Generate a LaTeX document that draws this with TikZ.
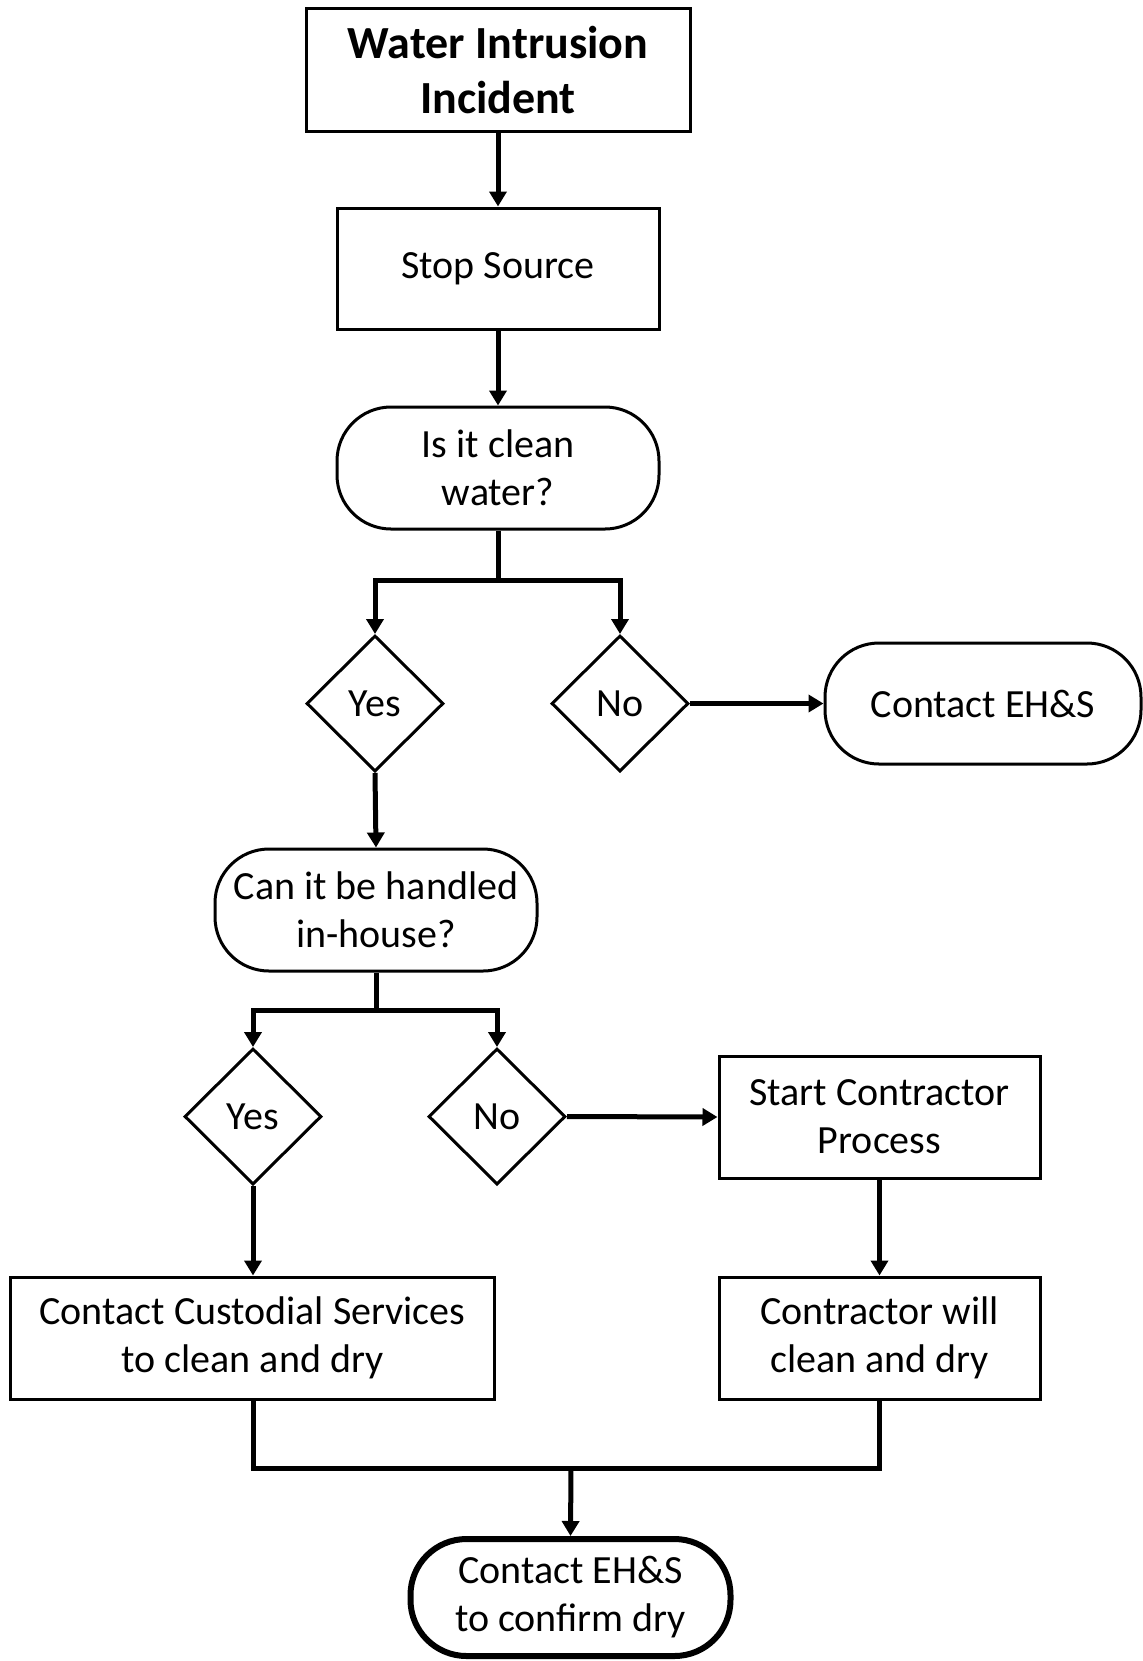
\documentclass[tikz,border=0pt]{standalone}
\usepackage{fontspec}
\setmainfont{Carlito}
\usetikzlibrary{arrows.meta,shapes.geometric}
\begin{document}
\begin{tikzpicture}[x=0.5pt,y=-0.5pt,
  box/.style={draw,line width=1.5pt,inner sep=0pt,align=center,
    font=\fontsize{20}{24}\selectfont},
  rbox/.style={box,rounded corners=27pt},
  dia/.style={draw,line width=1.5pt,diamond,inner sep=0pt,
    minimum width=68.5pt,minimum height=68pt,aspect=1,
    font=\fontsize{20}{24}\selectfont},
  conn/.style={line width=2.5pt,line join=miter},
  arr/.style={conn,-{Triangle[length=7.5pt,width=8.5pt]}}]
\useasboundingbox (0,0) rectangle (1143,1661);
\fill[white] (0,0) rectangle (1143,1661);

\node[box,minimum width=192pt,minimum height=61.5pt,
  font=\bfseries\fontsize{23}{27.5}\selectfont] (title) at (498,70) {Water Intrusion\\Incident};
\node[box,minimum width=161pt,minimum height=60.5pt] (stop) at (498,268.5) {Stop Source};
\node[rbox,minimum width=161pt,minimum height=61pt] (clean) at (498,468) {Is it clean\\water?};
\node[dia] (yes1) at (375,703.5) {Yes};
\node[dia] (no1) at (620,703.5) {No};
\node[rbox,minimum width=158pt,minimum height=60.5pt] (ehs) at (983,703.5) {Contact EH\&S};
\node[rbox,minimum width=161pt,minimum height=61pt] (house) at (376,910) {Can it be handled\\in-house?};
\node[dia] (yes2) at (253,1116.5) {Yes};
\node[dia] (no2) at (497,1116.5) {No};
\node[box,minimum width=160.5pt,minimum height=61pt] (start) at (879.5,1117) {Start Contractor\\Process};
\node[box,minimum width=242pt,minimum height=61pt] (cust) at (252.6,1338) {Contact Custodial Services\\to clean and dry};
\node[box,minimum width=160.5pt,minimum height=61pt] (cwill) at (879.5,1338) {Contractor will\\clean and dry};
\node[box,rounded corners=28pt,line width=3pt,minimum width=160pt,minimum height=58.5pt] (confirm) at (570.5,1597.5) {Contact EH\&S\\to confirm dry};

\coordinate (b1) at (498,580.5);
\coordinate (b2) at (376,1010.5);
\coordinate (m) at (571,1468);

\draw[arr] (title) -- (stop);
\draw[arr] (stop) -- (clean);
\draw[conn] (clean.south) -- (b1);
\draw[arr] (b1) -| (yes1.north);
\draw[arr] (b1) -| (no1.north);
\draw[arr] (no1.east) -- (ehs.west);
\draw[arr] (yes1.south) -- (house.north);
\draw[conn] (house.south) -- (b2);
\draw[arr] (b2) -| (yes2.north);
\draw[arr] (b2) -| (no2.north);
\draw[arr] (no2.east) -- (start.west);
\draw[arr] (yes2.south) -- (cust.north -| yes2.south);
\draw[arr] (start) -- (cwill);
\draw[conn] (cust.south -| yes2.south) |- (m) -| (cwill.south);
\draw[arr] (m) -- (confirm.north);
\end{tikzpicture}
\end{document}
